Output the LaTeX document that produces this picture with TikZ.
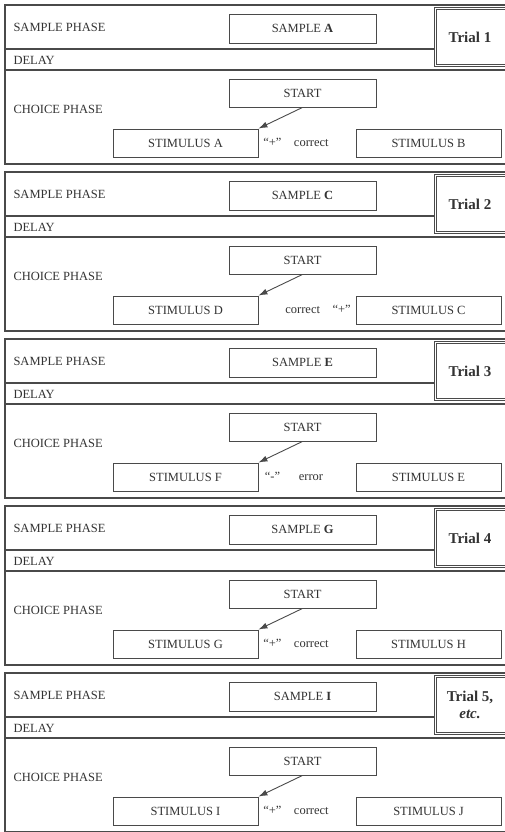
\documentclass[tikz,border=0pt]{standalone}
\usepackage{fontspec}
\setmainfont{Liberation Serif}
\usepackage{xcolor}
\usetikzlibrary{arrows.meta, positioning}
\definecolor{scanline}{HTML}{4A4A4A}
\definecolor{scanink}{HTML}{333333}

\begin{document}
\begin{tikzpicture}[x=1pt, y=-1pt,
    every node/.style={text=scanink, font=\fontsize{12.5}{15}\selectfont},
    panel/.style={draw=scanline, line width=1.1pt},
    phasebox/.style={draw=scanline, line width=0.9pt, rectangle, inner sep=0pt},
    trialbox/.style={draw=scanline, line width=0.7pt, double, double distance=1.6pt,
      inner sep=0pt},
    triallabel/.style={align=center, font=\fontsize{15}{17}\selectfont\bfseries},
    pointer/.style={draw=scanline, line width=0.9pt, -{Latex[length=9pt, width=6pt]}}]
        \useasboundingbox (0,0) rectangle (504,832);
        \fill[white] (0,0) rectangle (504,832);
        % one panel per trial, t = top edge
        \foreach \i/\smp/\lft/\rgt/\res/\resx/\lbl
          [evaluate=\i as \t using (\i-1)*167+5] in
          {1/A/A/B/{“+”\quad correct}/296/{Trial 1},
           2/C/D/C/{correct\quad “+”}/318/{Trial 2},
           3/E/F/E/{“-”\quad\enspace error}/294/{Trial 3},
           4/G/G/H/{“+”\quad correct}/296/{Trial 4},
           5/I/I/J/{“+”\quad correct}/296/{Trial 5,\\\textit{etc.}}}
        {
          \draw[panel] (5,\t) rectangle (530,\t+159);
          \draw[panel] (5,\t+44) -- (434,\t+44);
          \draw[panel] (5,\t+65) -- (530,\t+65);
          \node[trialbox, minimum width=90pt, minimum height=57pt] (tbox\i)
            at (480.5,\t+32) {};
          \node[triallabel] (trial\i) at (470,\t+32) {\lbl};
          \node[anchor=west] (sphase\i) at (10,\t+22) {SAMPLE PHASE};
          \node[anchor=west] (delay\i)  at (10,\t+55) {DELAY};
          \node[anchor=west] (cphase\i) at (10,\t+104) {CHOICE PHASE};
          \node[phasebox, minimum width=147pt, minimum height=29pt] (sample\i)
            at (302.5,\t+23.5) {SAMPLE \textbf{\smp}};
          \node[phasebox, minimum width=147pt, minimum height=28pt] (start\i)
            at (302.5,\t+88) {START};
          \node[phasebox, minimum width=145pt, minimum height=28pt] (stimL\i)
            at (185.5,\t+138) {STIMULUS \lft};
          \node[phasebox, minimum width=145pt, minimum height=28pt] (stimR\i)
            at (428.5,\t+138) {STIMULUS \rgt};
          \node (res\i) at (\resx,\t+137) {\res};
          \draw[pointer] (start\i.south) -- (stimL\i.north east);
        }
      \end{tikzpicture}
\end{document}
